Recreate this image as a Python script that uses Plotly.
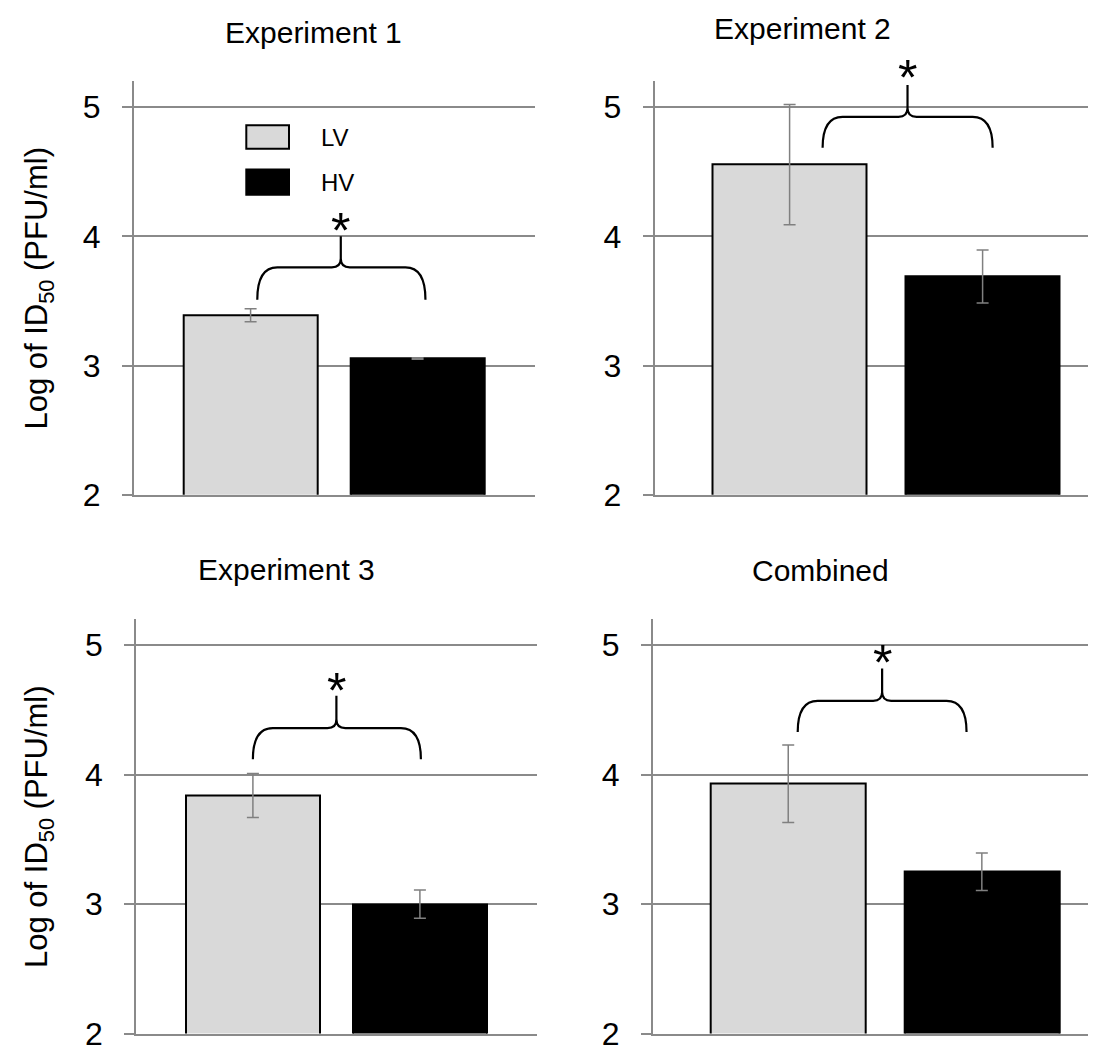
import plotly.graph_objects as go

# ---------------- data ----------------
panel_titles = ["Experiment 1", "Experiment 2", "Experiment 3", "Combined"]
groups = ["LV", "HV"]
lv_mean = [3.39, 4.555, 3.84, 3.93]
lv_err = [0.05, 0.465, 0.17, 0.30]
hv_mean = [3.055, 3.69, 3.00, 3.25]
hv_err = [0.005, 0.205, 0.11, 0.145]
y_ticks = [2, 3, 4, 5]
y_title = "Log of ID<sub>50</sub> (PFU/ml)"

# significance braces (left x, right x, centre x, end y, bar y, tip y, star y)
braces = [
    (0.04, 1.047, 0.54, 3.51, 3.76, 4.00, 4.13),
    (0.171, 1.052, 0.611, 4.685, 4.925, 5.17, 5.31),
    (0.00, 1.006, 0.50, 4.12, 4.36, 4.61, 4.73),
    (0.049, 0.921, 0.485, 4.33, 4.57, 4.82, 4.95),
]

# ---------------- layout geometry ----------------
W, H = 1096, 1057
FONT = "Liberation Sans, Arial, sans-serif"
GRID = "#8a8a8a"
LV_COL = "#d9d9d9"
HV_COL = "#000000"
ERR_COL = "#808080"

def px_x(p):
    return p / W

def px_y(p):
    return 1 - p / H

# pixel extents of each subplot (left, right, top(y=5.2), bottom(y=2))
boxes = [
    (125.7, 526.5, 74.5, 495.3),
    (646.5, 1096, 74.5, 495.3),
    (128.0, 528.8, 622.0, 1043.3),
    (644.7, 1096, 622.0, 1043.3),
]
x_ranges = [[-0.7, 1.7], [-0.7, 1.629], [-0.7, 1.7], [-0.7, 1.631]]
y_range = [2, 5.2]

title_pos = [(305, 24.6), (794, 21.3), (278, 571.3), (812, 571.9)]

fig = go.Figure()
layout = dict(
    width=W, height=H,
    margin=dict(l=0, r=0, t=0, b=0),
    paper_bgcolor="white", plot_bgcolor="white",
    showlegend=False,
    font=dict(family=FONT, color="black"),
    bargap=0, barmode="overlay",
)
annotations = []
shapes = []

for i in range(4):
    sfx = "" if i == 0 else str(i + 1)
    xa, ya = "x" + sfx, "y" + sfx
    l, r, t, b = boxes[i]
    layout["xaxis" + sfx] = dict(
        domain=[px_x(l), px_x(r)], range=x_ranges[i], anchor=ya,
        showgrid=False, zeroline=False, showticklabels=False, ticks="",
        showline=True, linecolor=GRID, linewidth=1.5, fixedrange=True,
    )
    layout["yaxis" + sfx] = dict(
        domain=[px_y(b), px_y(t)], range=y_range, anchor=xa,
        tickvals=y_ticks, ticks="outside", ticklen=10, tickwidth=1.5,
        tickcolor=GRID, showline=True, linecolor=GRID, linewidth=1.5,
        showgrid=True, gridcolor=GRID, gridwidth=1.5, zeroline=False,
        tickfont=dict(size=32, family=FONT, color="black"),
        ticklabelstandoff=15, fixedrange=True,
    )
    fig.add_trace(go.Bar(
        x=[0], y=[lv_mean[i]], name=groups[0], width=0.8,
        marker=dict(color=LV_COL, line=dict(color="black", width=2)),
        error_y=dict(type="data", array=[lv_err[i]], color=ERR_COL,
                     thickness=1.5, width=6),
        xaxis=xa, yaxis=ya,
    ))
    fig.add_trace(go.Bar(
        x=[1], y=[hv_mean[i]], name=groups[1], width=0.8,
        marker=dict(color=HV_COL, line=dict(color="black", width=2)),
        error_y=dict(type="data", array=[hv_err[i]], color=ERR_COL,
                     thickness=1.5, width=6),
        xaxis=xa, yaxis=ya,
    ))

    # panel title
    tx, ty = title_pos[i]
    annotations.append(dict(
        text=panel_titles[i], x=px_x(tx), y=px_y(ty), xref="paper", yref="paper",
        xanchor="center", yanchor="middle", showarrow=False,
        font=dict(size=30, family=FONT, color="black"),
    ))

    # brace
    xl, xr, xc, ye, yh, yt, ys = braces[i]
    ppu_x = (r - l) / (x_ranges[i][1] - x_ranges[i][0])
    ppu_y = (b - t) / (y_range[1] - y_range[0])
    dx = 20 / ppu_x
    dx2 = 9 / ppu_x
    dy2 = 9 / ppu_y
    path = (
        f"M {xl},{ye} Q {xl},{yh} {xl+dx},{yh} L {xc-dx2},{yh} "
        f"Q {xc},{yh} {xc},{yh+dy2} L {xc},{yt} "
        f"M {xc},{yh+dy2} Q {xc},{yh} {xc+dx2},{yh} L {xr-dx},{yh} "
        f"Q {xr},{yh} {xr},{ye}"
    )
    shapes.append(dict(type="path", path=path, xref=xa, yref=ya,
                       line=dict(color="black", width=2.2)))
    # star placed in paper space so it can sit above the plot area
    star_px = b - (ys - y_range[0]) * ppu_y
    annotations.append(dict(
        text="*", x=xc, y=px_y(star_px), xref=xa, yref="paper", xanchor="center",
        yanchor="middle", showarrow=False, yshift=-11,
        font=dict(size=50, family=FONT, color="black"),
    ))

# y-axis titles (left column)
for (l, r, t, b) in (boxes[0], boxes[2]):
    annotations.append(dict(
        text=y_title, x=px_x(31.5), y=px_y((t + b) / 2), xref="paper", yref="paper",
        xanchor="center", yanchor="middle", textangle=-90, showarrow=False,
        font=dict(size=31, family=FONT, color="black"),
    ))

# manual legend in first panel
leg_items = [(groups[0], LV_COL, 119.3, 143.3), (groups[1], HV_COL, 164.3, 190.0)]
for name, col, y0, y1 in leg_items:
    shapes.append(dict(type="rect", xref="paper", yref="paper",
                       x0=px_x(238.3), x1=px_x(281), y0=px_y(y1), y1=px_y(y0),
                       fillcolor=col, line=dict(color="black", width=2)))
    annotations.append(dict(
        text=name, x=px_x(311), y=px_y((y0 + y1) / 2), xref="paper", yref="paper",
        xanchor="left", yanchor="middle", showarrow=False,
        font=dict(size=24, family=FONT, color="black"),
    ))

layout["annotations"] = annotations
layout["shapes"] = shapes
fig.update_layout(**layout)
fig.write_html("out.html")
